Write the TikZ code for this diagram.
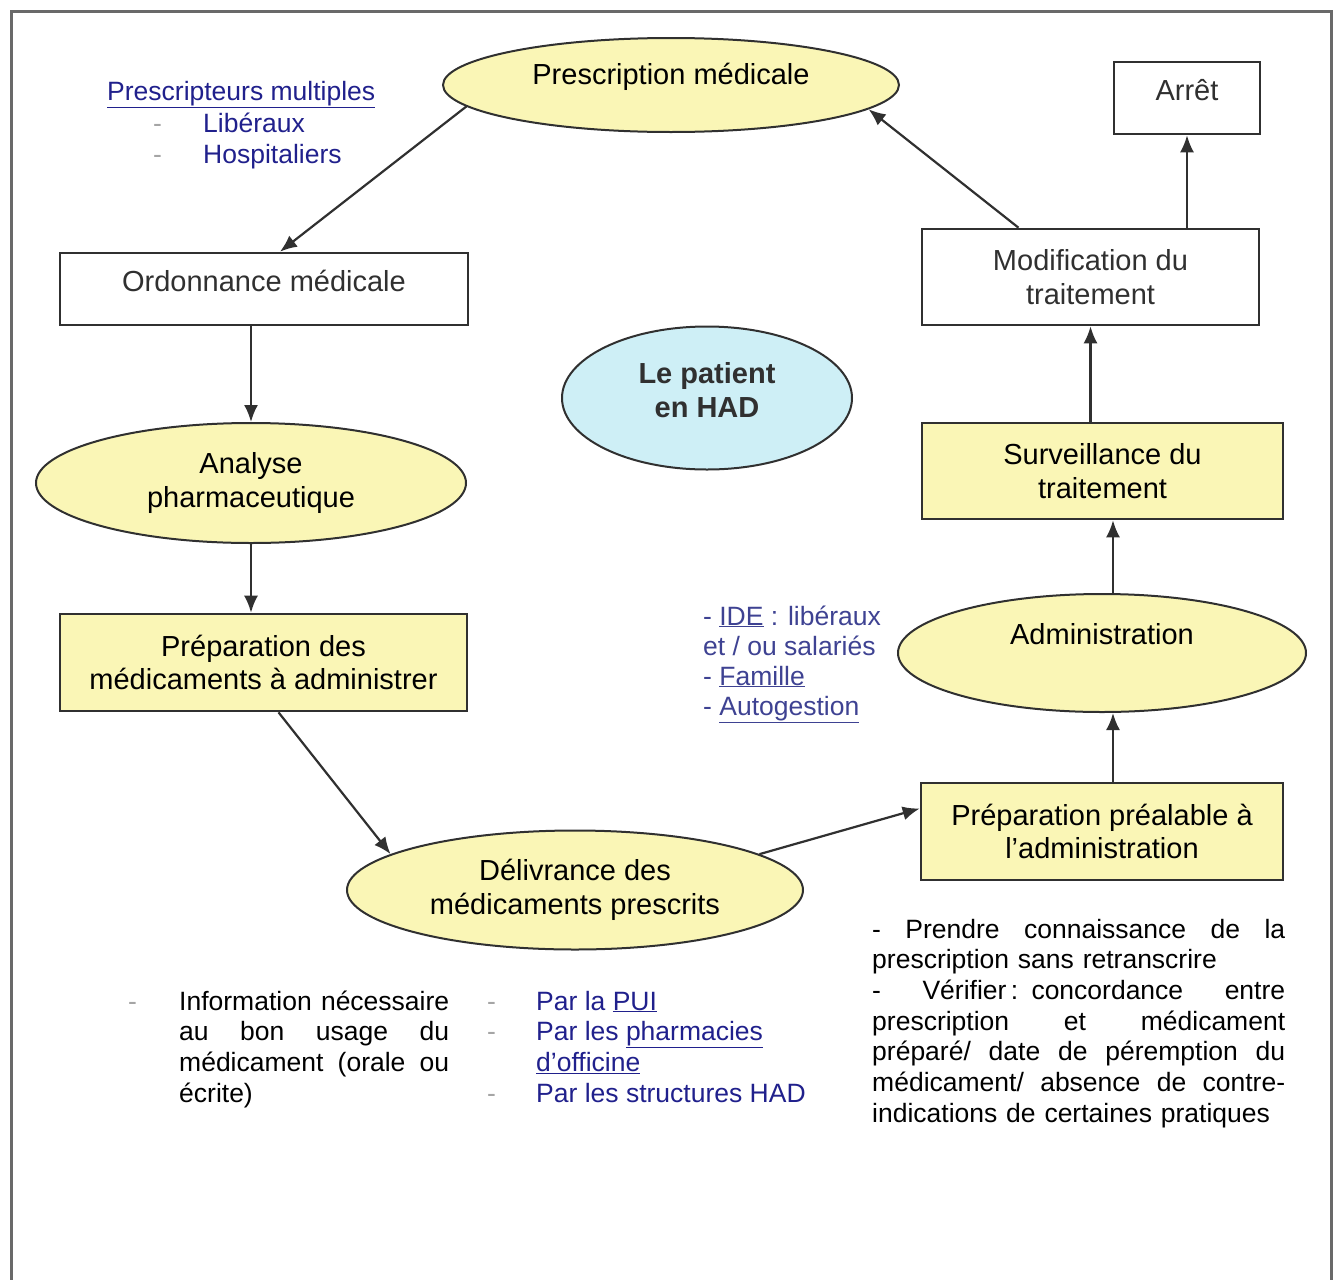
\documentclass[tikz,border=0pt]{standalone}
\usepackage{fontspec}
\setmainfont{Liberation Sans}
\usetikzlibrary{positioning,shapes,arrows.meta}

\definecolor{hadyellow}{RGB}{250,246,182}
\definecolor{hadcyan}{RGB}{206,239,246}
\definecolor{hadblue}{RGB}{32,32,140}
\definecolor{hadgrayblue}{RGB}{62,66,146}
\definecolor{hadline}{RGB}{48,48,48}
\definecolor{hadframe}{RGB}{105,105,105}
\definecolor{haddash}{RGB}{165,165,165}

% justified line of a given width
\newcommand{\fullline}[2]{\leavevmode{\spaceskip=.278em plus 1fil\relax\hbox to #1{#2}}}

\begin{document}
\begin{tikzpicture}[x=1pt,y=-1pt]
    \tikzstyle{every node}=[inner sep=0,font=\fontsize{29}{33.5}\selectfont]
    \tikzstyle{box}=[draw=hadline,line width=2.6,rectangle,align=center,fill=white,text=hadline]
    \tikzstyle{yellowbox}=[box,fill=hadyellow,text=black]
    \tikzstyle{oval}=[draw=hadline,line width=2,ellipse,align=center,fill=hadyellow]
    \tikzstyle{note}=[anchor=base west,font=\fontsize{26.5}{30.7}\selectfont]
    \tikzstyle{bullet}=[note,text=haddash]
    \tikzstyle{flow}=[-{Latex[length=17,width=14]},line width=2.2,draw=hadline]
    {
        \useasboundingbox (0,0) rectangle (1339,1280);
        \draw[line width=3,draw=hadframe] (11,1295) -- (11,11) -- (1331,11) -- (1331,1295);

        % cycle
        \node[oval,minimum width=456,minimum height=94,
            label={[yshift=8pt]center:Prescription médicale}] (presc) at (671,85) {};
        \node[box,minimum width=408,minimum height=72,
            label={[yshift=8pt,text=hadline]center:Ordonnance médicale}] (ordo) at (264,289) {};
        \node[oval,minimum width=430,minimum height=120] (analyse) at (251,483) {Analyse\\pharmaceutique};
        \node[yellowbox,minimum width=407,minimum height=97] (prepa) at (263.5,662.5) {Préparation des\\médicaments à administrer};
        \node[oval,minimum width=456,minimum height=119] (deliv) at (575,890) {Délivrance des\\médicaments prescrits};
        \node[yellowbox,minimum width=362,minimum height=97] (prepadm) at (1102,831.5) {Préparation préalable à\\l’administration};
        \node[oval,minimum width=408,minimum height=118,
            label={[yshift=19pt]center:Administration}] (admin) at (1102,653) {};
        \node[yellowbox,minimum width=361,minimum height=96] (surv) at (1102.5,471) {Surveillance du\\traitement};
        \node[box,minimum width=337,minimum height=96] (modif) at (1090.5,277) {Modification du\\traitement};
        \node[box,minimum width=146,minimum height=72,
            label={[yshift=8pt,text=hadline]center:Arrêt}] (arret) at (1187,98) {};

        % centre
        \node[oval,fill=hadcyan,minimum width=290,minimum height=143,
            label={[yshift=8pt,align=center,text=hadline,font=\bfseries\fontsize{29}{34}\selectfont]center:Le patient\\en HAD}] (patient) at (707,398) {};

        \draw[flow] (presc.186) -- ([xshift=16pt]ordo.north);
        \draw[flow] (ordo.south -| analyse.north) -- (analyse.north);
        \draw[flow] (analyse.south) -- (analyse.south |- prepa.north);
        \draw[flow] ([xshift=15pt]prepa.south) -- (deliv.169);
        \draw[flow] (deliv.11) -- ([yshift=23pt]prepadm.west);
        \draw[flow] ([xshift=11pt]prepadm.north) -- ([xshift=11pt]prepadm.north |- admin.south);
        \draw[flow] ([xshift=11pt]admin.north) -- ([xshift=11pt]admin.north |- surv.south);
        \draw[flow] (surv.north -| modif.south) -- (modif.south);
        \draw[flow] (modif.north -| arret.south) -- (arret.south);
        \draw[flow] ([xshift=-72pt]modif.north) -- (presc.353);

        % prescripteurs
        \node[note,text=hadblue] (prescr) at (107,100) {\underline{Prescripteurs multiples}};
        \node[bullet] (dlib) at (153,132) {-};
        \node[note,text=hadblue] (liber) at (203,132) {Libéraux};
        \node[bullet] (dhosp) at (153,163) {-};
        \node[note,text=hadblue] (hosp) at (203,163) {Hospitaliers};

        % intervenants
        \node[note,text=hadgrayblue] (ide) at (703,625) {- \underline{IDE} : libéraux};
        \node[note,text=hadgrayblue] (salar) at (703,655) {et / ou salariés};
        \node[note,text=hadgrayblue] (famil) at (703,685) {- \underline{Famille}};
        \node[note,text=hadgrayblue] (autog) at (703,715) {- \underline{Autogestion}};

        % delivrance
        \node[bullet] (dinfo) at (128,1010) {-};
        \node[note,text width=270] (info) at (179,1010) {\fullline{270pt}{Information nécessaire}\\
            \fullline{270pt}{au bon usage du}\\
            \fullline{270pt}{médicament (orale ou}\\
            écrite)};
        \node[bullet] (dpui) at (487,1010) {-};
        \node[bullet] (dpharma) at (487,1040) {-};
        \node[bullet] (dstruct) at (487,1102) {-};
        \node[note,text=hadblue] (pui) at (536,1010) {Par la \underline{PUI}};
        \node[note,text=hadblue] (pharma) at (536,1040.7) {Par les \underline{pharmacies}};
        \node[note,text=hadblue] (offic) at (536,1071.4) {\underline{d’officine}};
        \node[note,text=hadblue] (struct) at (536,1102) {Par les structures HAD};

        % verification
        \node[note,text width=413] (verif) at (872,938) {\fullline{413pt}{- Prendre connaissance de la}\\
            prescription sans retranscrire\\
            \fullline{413pt}{- Vérifier\,: concordance entre}\\
            \fullline{413pt}{prescription et médicament}\\
            \fullline{413pt}{préparé/ date de péremption du}\\
            \fullline{413pt}{médicament/ absence de contre-}\\
            indications de certaines pratiques};
    }
\end{tikzpicture}
\end{document}
